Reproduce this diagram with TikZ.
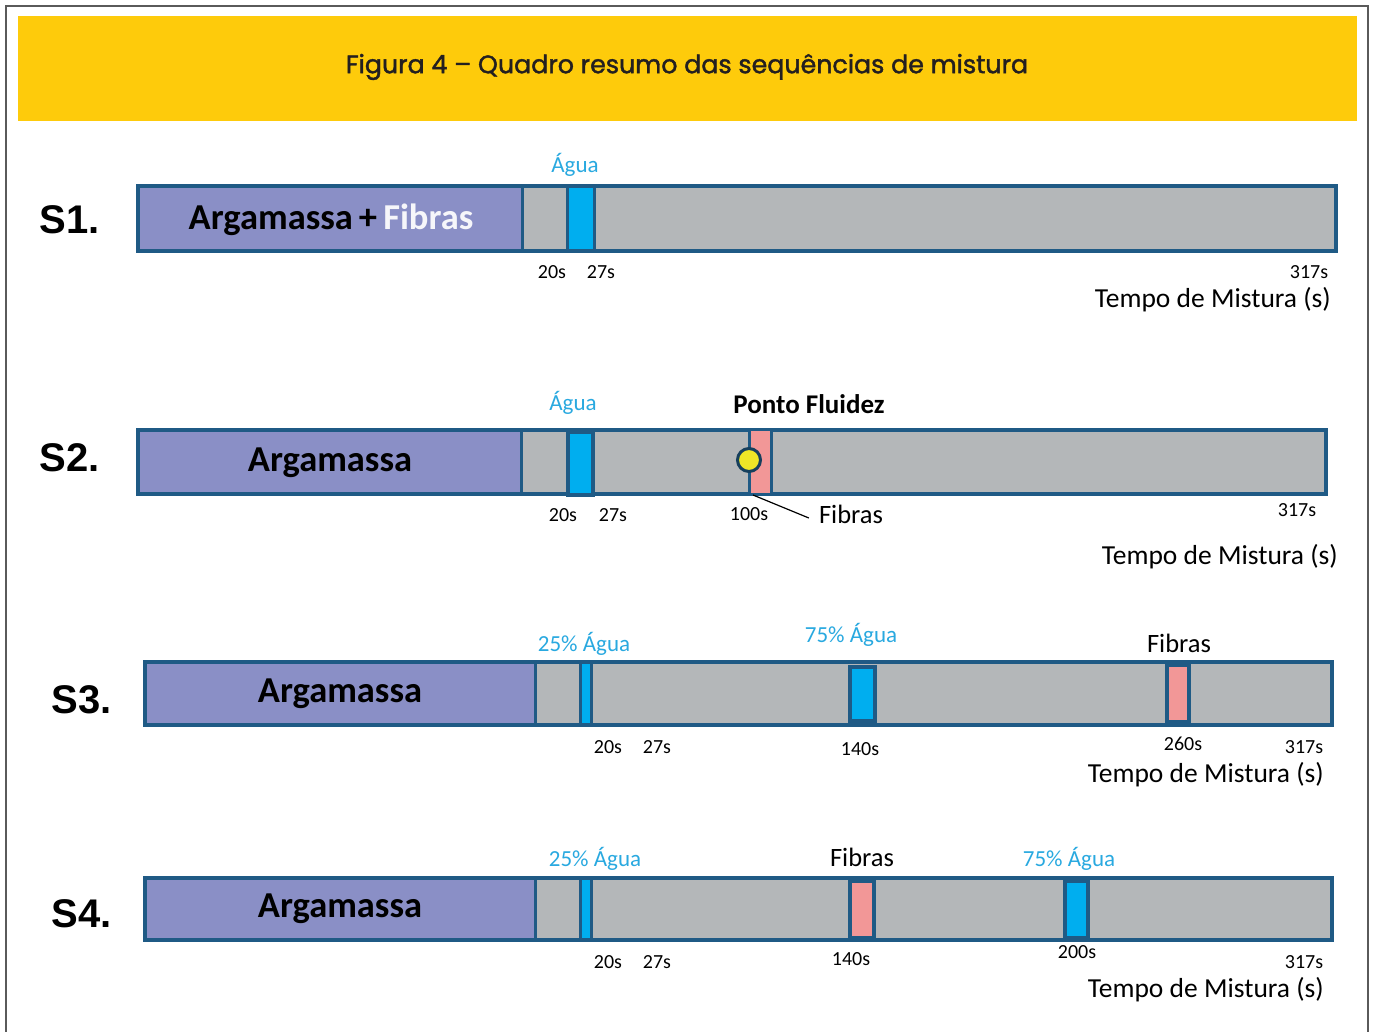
\documentclass[tikz,border=0pt]{standalone}
\usepackage{fontspec}
\setmainfont{Carlito}
\newfontfamily\arialf{Liberation Sans}
\newfontfamily\titlef[FakeBold=1.6]{Poppins}
\definecolor{bardark}{HTML}{1F5A85}
\definecolor{purplefill}{HTML}{8A8FC6}
\definecolor{grayfill}{HTML}{B4B7B9}
\definecolor{cyanfill}{HTML}{00AEEF}
\definecolor{pinkfill}{HTML}{F29797}
\definecolor{labcyan}{HTML}{29A9E0}
\definecolor{bandyellow}{HTML}{FECB0B}
\definecolor{dotyellow}{HTML}{EEE627}
\definecolor{framegray}{HTML}{5A5A5A}
\definecolor{titlegray}{HTML}{231F20}
\tikzset{
  barfill/.style={fill=grayfill},
  purp/.style={fill=purplefill},
  barline/.style={draw=bardark,line width=4pt},
  sepline/.style={draw=bardark,line width=3pt},
  cyanbox/.style={fill=cyanfill,draw=bardark,line width=3.5pt},
  pinkbox/.style={fill=pinkfill,draw=bardark,line width=3.5pt},
  slabel/.style={font=\arialf\bfseries\fontsize{40}{44}\selectfont,inner sep=0pt},
  mainlab/.style={font=\bfseries\fontsize{36.5}{40}\selectfont,inner sep=0pt},
  tick/.style={font=\fontsize{20}{22}\selectfont,inner sep=0pt},
  agua/.style={font=\fontsize{23}{25}\selectfont,text=labcyan,inner sep=0pt},
  blk/.style={font=\fontsize{26.5}{28}\selectfont,inner sep=0pt},
  axis/.style={font=\fontsize{27.5}{30}\selectfont,inner sep=0pt,anchor=east},
}
\begin{document}
\begin{tikzpicture}[x=1pt,y=-1pt]
\useasboundingbox (0,0) rectangle (1373,1032);
\fill[white] (0,0) rectangle (1373,1032);
% frame
\draw[framegray,line width=1.5pt] (6,1040) -- (6,6) -- (1368,6) -- (1368,1040);
\fill[bandyellow] (18,16) rectangle (1357,121);
\node[font=\titlef\fontsize{25.3}{28}\selectfont,text=titlegray,inner sep=0pt] (title) at (687,67) {Figura 4 – Quadro resumo das sequências de mistura};

% ---------- S1 ----------
\node[slabel] (s1) at (70,220) {S1.};
\fill[barfill] (138,186) rectangle (1336,251);
\fill[purp] (138,186) rectangle (522,251);
\fill[cyanfill] (567,186) rectangle (594,251);
\draw[sepline] (522,186) -- (522,251);
\draw[sepline] (567,186) -- (567,251);
\draw[sepline] (594,186) -- (594,251);
\draw[barline] (138,186) rectangle (1336,251);
\node[mainlab] (s1arg) at (331,220) {Argamassa\,+\,\textcolor{white!92!purplefill}{Fibras}};
\node[agua] (s1agua) at (575,165) {Água};
\node[tick] (s1t20) at (552,272) {20s};
\node[tick] (s1t27) at (601,272) {27s};
\node[tick] (s1t317) at (1309,272) {317s};
\node[axis] (s1ax) at (1331,300) {Tempo de Mistura (s)};

% ---------- S2 ----------
\node[slabel] (s2) at (70,458) {S2.};
\fill[barfill] (138,430) rectangle (1326,494);
\fill[purp] (138,430) rectangle (521,494);
\draw[sepline] (521,430) -- (521,494);
\draw[barline] (138,430) rectangle (1326,494);
\draw[cyanbox] (568,432) rectangle (593,495);
\draw[pinkbox,line width=3pt] (749,429) rectangle (771,494);
\node[circle,fill=dotyellow,draw=bardark!70!black,line width=3pt,minimum size=23pt,inner sep=0pt] (dot) at (749,460) {};
\node[mainlab] (s2arg) at (330,463) {Argamassa};
\node[agua] (s2agua) at (573,403) {Água};
\node[font=\bfseries\fontsize{27}{29}\selectfont,inner sep=0pt] (pf) at (809,404) {Ponto Fluidez};
\node[tick] (s2t20) at (563,515) {20s};
\node[tick] (s2t27) at (613,515) {27s};
\node[tick] (s2t100) at (749,514) {100s};
\node[blk] (s2fib) at (851,514) {Fibras};
\coordinate (s2pinkbot) at (753,495);
\draw[line width=1.2pt] ([xshift=-10pt,yshift=-4pt]s2fib.west) -- (s2pinkbot);
\node[tick] (s2t317) at (1297,510) {317s};
\node[axis] (s2ax) at (1338,557) {Tempo de Mistura (s)};

% ---------- S3 ----------
\node[slabel] (s3) at (82,700) {S3.};
\fill[barfill] (145,662) rectangle (1332,725);
\fill[purp] (145,662) rectangle (535,725);
\fill[cyanfill] (580,662) rectangle (591,725);
\draw[sepline] (535,662) -- (535,725);
\draw[sepline] (580,662) -- (580,725);
\draw[sepline] (591,662) -- (591,725);
\draw[barline] (145,662) rectangle (1332,725);
\draw[cyanbox] (850,667) rectangle (875,721);
\draw[pinkbox] (1167,665) rectangle (1189,722);
\node[mainlab] (s3arg) at (340,694) {Argamassa};
\node[agua] (s3a25) at (584,644) {25\% Água};
\node[agua] (s3a75) at (851,635) {75\% Água};
\node[blk] (s3fib) at (1179,643) {Fibras};
\node[tick] (s3t20) at (608,747) {20s};
\node[tick] (s3t27) at (657,747) {27s};
\node[tick] (s3t140) at (860,749) {140s};
\node[tick] (s3t260) at (1183,744) {260s};
\node[tick] (s3t317) at (1304,747) {317s};
\node[axis] (s3ax) at (1324,775) {Tempo de Mistura (s)};

% ---------- S4 ----------
\node[slabel] (s4) at (82,914) {S4.};
\fill[barfill] (145,878) rectangle (1332,940);
\fill[purp] (145,878) rectangle (535,940);
\fill[cyanfill] (580,878) rectangle (591,940);
\draw[sepline] (535,878) -- (535,940);
\draw[sepline] (580,878) -- (580,940);
\draw[sepline] (591,878) -- (591,940);
\draw[barline] (145,878) rectangle (1332,940);
\draw[pinkbox] (850,881) rectangle (874,938);
\draw[cyanbox] (1065,881) rectangle (1088,938);
\node[mainlab] (s4arg) at (340,909) {Argamassa};
\node[agua] (s4a25) at (595,859) {25\% Água};
\node[blk] (s4fib) at (862,857) {Fibras};
\node[agua] (s4a75) at (1069,859) {75\% Água};
\node[tick] (s4t20) at (608,962) {20s};
\node[tick] (s4t27) at (657,962) {27s};
\node[tick] (s4t140) at (851,959) {140s};
\node[tick] (s4t200) at (1077,952) {200s};
\node[tick] (s4t317) at (1304,962) {317s};
\node[axis] (s4ax) at (1324,990) {Tempo de Mistura (s)};
\end{tikzpicture}
\end{document}
